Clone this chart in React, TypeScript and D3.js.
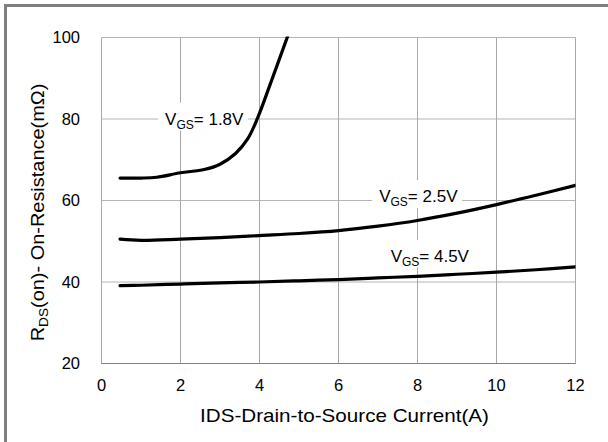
import React from "react";
import * as d3 from "d3";

const xTicks = [0, 2, 4, 6, 8, 10, 12];
const yTicks = [20, 40, 60, 80, 100];

const vgs18X = [0.47, 1.0, 1.4, 2.0, 2.6, 3.0, 3.4, 3.7, 3.95, 4.3, 4.72];
const vgs18Y = [65.5, 65.5, 65.7, 66.8, 67.6, 68.9, 71.6, 75.1, 80.2, 89.3, 100.5];

const vgs25X = [0.47, 1, 2, 3, 4, 5, 6, 7, 8, 9, 10, 11, 12];
const vgs25Y = [50.5, 50.2, 50.5, 50.9, 51.4, 51.9, 52.6, 53.7, 55.1, 56.9, 59.0, 61.3, 63.7];

const vgs45X = [0.47, 1, 2, 3, 4, 5, 6, 7, 8, 9, 10, 11, 12];
const vgs45Y = [39.1, 39.2, 39.5, 39.8, 40.0, 40.3, 40.6, 41.0, 41.4, 41.9, 42.4, 43.0, 43.7];

const seriesLabels = ["1.8V", "2.5V", "4.5V"];

const FONT = "'Liberation Sans', Arial, sans-serif";

export default function App() {
  const x = d3.scaleLinear().domain([0, 12]).range([101.5, 575.5]);
  const y = d3.scaleLinear().domain([20, 100]).range([363.5, 37.5]);
  const line = d3
    .line<[number, number]>()
    .x((d) => x(d[0]))
    .y((d) => y(d[1]))
    .curve(d3.curveCatmullRom.alpha(0.5));

  const series = [
    { xs: vgs18X, ys: vgs18Y },
    { xs: vgs25X, ys: vgs25Y },
    { xs: vgs45X, ys: vgs45Y },
  ];

  const labelPos = [
    { lx: 1.61, ly: 78.6 },
    { lx: 7.03, ly: 59.6 },
    { lx: 7.32, ly: 45.0 },
  ];

  return (
    <svg
      width={608}
      height={442}
      style={{ position: "absolute", left: 0, top: 0, background: "#fff" }}
      fontFamily={FONT}
    >
      <defs>
        <clipPath id="plotclip">
          <rect x={x(0)} y={y(100) - 1} width={x(12) - x(0)} height={y(20) - y(100) + 1} />
        </clipPath>
      </defs>
      <rect x={0} y={0} width={608} height={442} fill="#fff" />
      <rect x={5.5} y={5.5} width={620} height={460} fill="none" stroke="#7f7f7f" strokeWidth={3} />

      {yTicks.map((t) => (
        <line key={"gy" + t} x1={x(0)} x2={x(12)} y1={y(t)} y2={y(t)} stroke="#b4b4b4" strokeWidth={1} />
      ))}
      {xTicks.map((t) => (
        <line key={"gx" + t} x1={x(t)} x2={x(t)} y1={y(100)} y2={y(20)} stroke="#a8a8a8" strokeWidth={1} />
      ))}
      <line x1={x(0)} x2={x(12)} y1={y(20)} y2={y(20)} stroke="#808080" strokeWidth={1.2} />

      {yTicks.map((t) => (
        <text key={"ty" + t} x={80} y={y(t)} dy="0.36em" textAnchor="end" fontSize={16.5} fill="#000">
          {t}
        </text>
      ))}
      {xTicks.map((t) => (
        <text key={"tx" + t} x={x(t)} y={385} dy="0.36em" textAnchor="middle" fontSize={16.5} fill="#000">
          {t}
        </text>
      ))}

      {seriesLabels.map((lab, i) => {
        const px = x(labelPos[i].lx);
        const py = y(labelPos[i].ly);
        return <rect key={"bg" + i} x={px - 7} y={py - 22} width={90} height={28} fill="#fff" />;
      })}

      <g clipPath="url(#plotclip)">
        {series.map((s, i) => (
          <path
            key={"s" + i}
            d={line(s.xs.map((v, j) => [v, s.ys[j]] as [number, number])) || ""}
            fill="none"
            stroke="#000"
            strokeWidth={3.2}
            strokeLinecap="round"
            strokeLinejoin="round"
          />
        ))}
      </g>

      {seriesLabels.map((lab, i) => {
        const px = x(labelPos[i].lx);
        const py = y(labelPos[i].ly);
        return (
          <text key={"lab" + i} x={px} y={py} fontSize={17} fill="#000">
            <tspan>V</tspan>
            <tspan fontSize={12} dy={4}>GS</tspan>
            <tspan dy={-4}>{"= " + lab}</tspan>
          </text>
        );
      })}

      <text
        x={344.5}
        y={422}
        textAnchor="middle"
        fontSize={19}
        fill="#000"
        textLength={289}
        lengthAdjust="spacingAndGlyphs"
      >
        IDS-Drain-to-Source  Current(A)
      </text>
      <text
        transform={`translate(43.5,212.5) rotate(-90) scale(1.05,1)`}
        textAnchor="middle"
        fontSize={19}
        fill="#000"
      >
        <tspan>R</tspan>
        <tspan fontSize={13} dy={4}>DS</tspan>
        <tspan dy={-4}>(on)- On-Resistance(mΩ)</tspan>
      </text>
    </svg>
  );
}
